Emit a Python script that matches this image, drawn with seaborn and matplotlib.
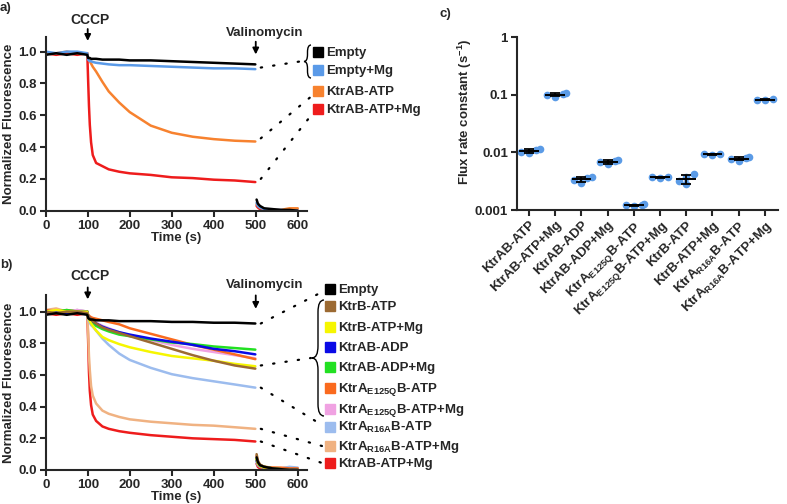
import matplotlib.pyplot as plt
import seaborn as sns
import pandas as pd
import numpy as np
from matplotlib.patches import ConnectionPatch, PathPatch
from matplotlib.path import Path
from matplotlib.lines import Line2D
from matplotlib.ticker import FormatStrFormatter, NullLocator

sns.set_style("ticks")
plt.rcParams["font.family"] = ["Liberation Sans", "DejaVu Sans"]
plt.rcParams["font.weight"] = "bold"
plt.rcParams["axes.labelweight"] = "bold"
plt.rcParams["mathtext.fontset"] = "custom"
plt.rcParams["mathtext.rm"] = "Liberation Sans:bold"
plt.rcParams["mathtext.bf"] = "Liberation Sans:bold"
plt.rcParams["mathtext.it"] = "Liberation Sans:bold"
plt.rcParams["mathtext.default"] = "bf"

W, H = 787, 504
FS = 9.5

# -------------------------------
# DATA
# -------------------------------
time_s = [0, 25, 50, 75, 99, 101, 103, 105, 108, 112, 120, 135, 150, 175, 200,
          250, 300, 350, 400, 450, 499, 502, 505, 510, 520, 540, 560, 580, 600]

# panel a
a_empty = [0.98, 0.99, 0.98, 0.99, 0.98, 0.96, 0.96, 0.96, 0.955, 0.955, 0.955, 0.95, 0.95, 0.95, 0.945,
           0.945, 0.94, 0.935, 0.93, 0.925, 0.92, 0.07, 0.045, 0.03, 0.015, 0.01, 0.005, 0.005, 0.0]
a_empty_mg = [1.0, 0.99, 1.0, 1.0, 0.99, 0.95, 0.945, 0.94, 0.94, 0.935, 0.93, 0.925, 0.92, 0.915, 0.915,
              0.91, 0.905, 0.9, 0.895, 0.895, 0.89, 0.05, 0.03, 0.02, 0.01, 0.005, 0.005, 0.0, 0.0]
a_atp = [0.99, 0.99, 1.0, 0.99, 0.99, 0.96, 0.95, 0.94, 0.925, 0.905, 0.875, 0.81, 0.75, 0.68, 0.62,
         0.535, 0.49, 0.465, 0.45, 0.44, 0.435, 0.04, 0.03, 0.02, 0.01, 0.005, 0.005, 0.015, 0.015]
a_atp_mg = [0.99, 0.98, 0.99, 0.98, 0.99, 0.82, 0.66, 0.54, 0.43, 0.35, 0.3, 0.28, 0.26, 0.245, 0.235,
            0.225, 0.21, 0.205, 0.195, 0.19, 0.18, 0.03, 0.02, 0.01, 0.005, 0.0, 0.0, 0.0, 0.0]

a_names = ["Empty", "Empty+Mg", "KtrAB-ATP", "KtrAB-ATP+Mg"]
a_colors = ["#000000", "#5a9ae8", "#f7822f", "#ee1c1c"]
a_values = [a_empty, a_empty_mg, a_atp, a_atp_mg]

# panel b
b_empty = [0.98, 0.99, 0.98, 0.99, 0.98, 0.96, 0.955, 0.95, 0.95, 0.95, 0.945, 0.945, 0.945, 0.94, 0.94,
           0.94, 0.935, 0.935, 0.93, 0.93, 0.925, 0.08, 0.05, 0.03, 0.02, 0.01, 0.005, 0.0, 0.0]
b_ktrb = [1.0, 0.99, 1.0, 1.0, 0.99, 0.97, 0.965, 0.96, 0.95, 0.94, 0.925, 0.9, 0.885, 0.865, 0.845,
          0.805, 0.765, 0.725, 0.69, 0.66, 0.64, 0.1, 0.06, 0.035, 0.02, 0.01, 0.005, 0.005, 0.0]
b_ktrb_mg = [1.0, 1.01, 1.0, 1.0, 1.0, 0.96, 0.95, 0.94, 0.925, 0.91, 0.88, 0.84, 0.82, 0.795, 0.775,
             0.745, 0.72, 0.705, 0.69, 0.67, 0.655, 0.07, 0.04, 0.025, 0.015, 0.01, 0.005, 0.0, 0.0]
b_adp = [1.0, 1.0, 0.99, 1.0, 1.0, 0.97, 0.965, 0.96, 0.95, 0.94, 0.925, 0.905, 0.89, 0.87, 0.855,
         0.83, 0.81, 0.79, 0.765, 0.75, 0.73, 0.06, 0.04, 0.025, 0.015, 0.01, 0.005, 0.005, 0.0]
b_adp_mg = [1.0, 1.0, 1.01, 1.0, 1.0, 0.97, 0.96, 0.95, 0.94, 0.93, 0.91, 0.89, 0.875, 0.855, 0.845,
            0.825, 0.805, 0.795, 0.78, 0.77, 0.76, 0.07, 0.045, 0.03, 0.02, 0.01, 0.005, 0.0, 0.0]
b_e125q = [1.01, 1.0, 1.01, 1.0, 1.0, 0.98, 0.975, 0.97, 0.965, 0.96, 0.955, 0.945, 0.935, 0.92, 0.895,
           0.86, 0.825, 0.79, 0.76, 0.73, 0.7, 0.09, 0.05, 0.03, 0.02, 0.015, 0.015, 0.01, 0.01]
b_e125q_mg = [1.0, 1.01, 1.0, 1.01, 1.0, 0.97, 0.965, 0.96, 0.955, 0.945, 0.93, 0.91, 0.895, 0.87, 0.85,
              0.82, 0.79, 0.765, 0.745, 0.725, 0.705, 0.07, 0.04, 0.03, 0.02, 0.01, 0.01, 0.005, 0.005]
b_r16a = [1.01, 1.0, 1.0, 1.01, 1.0, 0.95, 0.94, 0.93, 0.915, 0.905, 0.88, 0.83, 0.79, 0.735, 0.695,
          0.645, 0.605, 0.58, 0.56, 0.54, 0.52, 0.05, 0.03, 0.02, 0.015, 0.01, 0.01, 0.02, 0.015]
b_r16a_mg = [1.01, 1.02, 1.0, 1.01, 1.0, 0.86, 0.72, 0.63, 0.53, 0.47, 0.42, 0.375, 0.355, 0.335, 0.32,
             0.305, 0.295, 0.285, 0.28, 0.27, 0.26, 0.06, 0.04, 0.03, 0.02, 0.015, 0.01, 0.015, 0.01]
b_atp_mg = [0.99, 0.98, 0.99, 0.98, 0.99, 0.82, 0.62, 0.5, 0.41, 0.35, 0.31, 0.275, 0.26, 0.245, 0.235,
            0.22, 0.21, 0.2, 0.195, 0.19, 0.18, 0.04, 0.02, 0.01, 0.005, 0.0, 0.0, 0.0, 0.0]

b_names = ["Empty", "KtrB-ATP", "KtrB-ATP+Mg", "KtrAB-ADP", "KtrAB-ADP+Mg",
           "KtrA$_{E125Q}$B-ATP", "KtrA$_{E125Q}$B-ATP+Mg", "KtrA$_{R16A}$B-ATP",
           "KtrA$_{R16A}$B-ATP+Mg", "KtrAB-ATP+Mg"]
b_colors = ["#000000", "#9c6a32", "#f6f600", "#0a0ae6", "#22e022", "#fa6a1e",
            "#f0a2e2", "#9cbcee", "#f0b282", "#ee1c1c"]
b_values = [b_empty, b_ktrb, b_ktrb_mg, b_adp, b_adp_mg, b_e125q, b_e125q_mg,
            b_r16a, b_r16a_mg, b_atp_mg]

# panel c
flux_labels = ["KtrAB-ATP", "KtrAB-ATP+Mg", "KtrAB-ADP", "KtrAB-ADP+Mg",
               "KtrA$_{E125Q}$B-ATP", "KtrA$_{E125Q}$B-ATP+Mg", "KtrB-ATP", "KtrB-ATP+Mg",
               "KtrA$_{R16A}$B-ATP", "KtrA$_{R16A}$B-ATP+Mg"]
flux_reps = [
    [0.0096, 0.0102, 0.0108, 0.0114],
    [0.092, 0.097, 0.101, 0.106],
    [0.0029, 0.0033, 0.0036, 0.0038],
    [0.0063, 0.0067, 0.0070, 0.0074],
    [0.00117, 0.00120, 0.00122, 0.00125],
    [0.0036, 0.0037, 0.0038],
    [0.0028, 0.0032, 0.0038, 0.0042],
    [0.0091, 0.0093, 0.0095],
    [0.0071, 0.0076, 0.0080, 0.0083],
    [0.080, 0.082, 0.084],
]


# -------------------------------
# HELPERS
# -------------------------------
def fx(x):
    return x / W


def fy(y):
    return 1 - y / H


def trace_frame(names, values):
    rows = []
    for name, vals in zip(names, values):
        for t, v in zip(time_s, vals):
            rows.append((name, t, v, int(t > 500)))
    return pd.DataFrame(rows, columns=["series", "time", "value", "segment"])


def style_axes(ax):
    sns.despine(ax=ax)
    for s in ["left", "bottom"]:
        ax.spines[s].set_linewidth(1.5)
    ax.tick_params(width=1.5, length=4.5, pad=2, labelsize=FS)


def style_trace_axes(ax, ytop):
    ax.set_xlim(0, 622)
    ax.set_ylim(0, ytop)
    ax.set_xticks([0, 100, 200, 300, 400, 500, 600])
    ax.set_yticks([0, 0.2, 0.4, 0.6, 0.8, 1.0])
    ax.yaxis.set_major_formatter(FormatStrFormatter("%.1f"))
    ax.set_xlabel("Time (s)", fontsize=FS, labelpad=0)
    ax.set_ylabel("Normalized Fluorescence", fontsize=FS, labelpad=2)
    style_axes(ax)


def arrow(ax, x, y_tip, y_tail):
    ax.annotate("", xy=(x, y_tip), xytext=(x, y_tail), annotation_clip=False,
                arrowprops=dict(arrowstyle="-|>", color="k", lw=1.3, mutation_scale=9))


def key(fig, x, y, color, label):
    fig.add_artist(Line2D([fx(x)], [fy(y)], marker="s", ms=6.5, color=color,
                          linestyle="none", transform=fig.transFigure))
    fig.text(fx(x + 8), fy(y + 4), label, va="baseline", ha="left", fontsize=FS)


def connector(fig, ax, xy_data, xy_px):
    con = ConnectionPatch(xyA=xy_data, coordsA=ax.transData,
                          xyB=(fx(xy_px[0]), fy(xy_px[1])), coordsB=fig.transFigure,
                          color="k", lw=1.6, linestyle=(0, (0.6, 5)), capstyle="round")
    fig.add_artist(con)


def brace(fig, x_tip, x_end, y0, y1):
    ym = (y0 + y1) / 2
    xb = (x_tip + x_end) / 2
    r = min(abs(x_end - x_tip), (y1 - y0) / 4)
    pts = [(x_end, y0), (xb, y0), (xb, y0 + r), (xb, ym - r), (xb, ym), (x_tip, ym),
           (xb, ym), (xb, ym + r), (xb, y1 - r), (xb, y1), (x_end, y1)]
    codes = [Path.MOVETO, Path.CURVE3, Path.CURVE3, Path.LINETO, Path.CURVE3, Path.CURVE3,
             Path.CURVE3, Path.CURVE3, Path.LINETO, Path.CURVE3, Path.CURVE3]
    verts = [(fx(px), fy(py)) for px, py in pts]
    fig.add_artist(PathPatch(Path(verts, codes), fill=False, lw=1.0, color="k",
                             transform=fig.transFigure))


# -------------------------------
# FIGURE
# -------------------------------
fig = plt.figure(figsize=(W / 100, H / 100), dpi=100)
ax_a = fig.add_axes([fx(45.7), fy(210.7), (307 - 45.7) / W, (210.7 - 36.7) / H])
ax_b = fig.add_axes([fx(45.7), fy(470), (307 - 45.7) / W, (470 - 295) / H])
ax_c = fig.add_axes([fx(517), fy(210), (778 - 517) / W, (210 - 37) / H])

# panel a
df_a = trace_frame(a_names, a_values)
sns.lineplot(data=df_a, x="time", y="value", hue="series", units="segment", estimator=None,
             palette=dict(zip(a_names, a_colors)), hue_order=a_names[::-1], legend=False,
             lw=1.8, ax=ax_a)
style_trace_axes(ax_a, 1.094)
ax_a.text(105, 1.2, "CCCP", ha="center", va="center", fontsize=10)
arrow(ax_a, 100, 1.05, 1.16)
ax_a.text(522, 1.117, "Valinomycin", ha="center", va="center", fontsize=FS)
arrow(ax_a, 500, 0.965, 1.08)

for name, color, y in zip(a_names, a_colors, [52, 70, 91, 109]):
    key(fig, 318, y, color, name)
brace(fig, 304, 311, 45, 78)
connector(fig, ax_a, (512, a_empty[20] - 0.02), (303, 61))
connector(fig, ax_a, (512, a_atp[20] + 0.02), (313, 95))
connector(fig, ax_a, (512, a_atp_mg[20] + 0.02), (313, 113))

# panel b
df_b = trace_frame(b_names, b_values)
sns.lineplot(data=df_b, x="time", y="value", hue="series", units="segment", estimator=None,
             palette=dict(zip(b_names, b_colors)), hue_order=b_names[::-1], legend=False,
             lw=1.8, ax=ax_b)
style_trace_axes(ax_b, 1.105)
ax_b.text(105, 1.225, "CCCP", ha="center", va="center", fontsize=10)
arrow(ax_b, 100, 1.06, 1.17)
ax_b.text(522, 1.17, "Valinomycin", ha="center", va="center", fontsize=FS)
arrow(ax_b, 500, 1.0, 1.12)

for name, color, y in zip(b_names, b_colors, [289, 306, 327, 347, 367, 388, 409, 427, 446, 463]):
    key(fig, 330, y, color, name)
brace(fig, 312, 324, 300, 416)
connector(fig, ax_b, (512, b_empty[20]), (322, 292))
connector(fig, ax_b, (512, 0.66), (311, 358))
connector(fig, ax_b, (512, b_r16a[20]), (322, 425))
connector(fig, ax_b, (512, b_r16a_mg[20]), (322, 446))
connector(fig, ax_b, (512, b_atp_mg[20]), (322, 463))

# panel c
df_c = pd.DataFrame([(lab, v) for lab, reps in zip(flux_labels, flux_reps) for v in reps],
                    columns=["sample", "rate"])
ax_c.set_yscale("log")
sns.swarmplot(data=df_c, x="sample", y="rate", order=flux_labels, color="#5b9be6",
              size=5.5, ax=ax_c, zorder=2)
stats = df_c.groupby("sample", sort=False)["rate"].agg(["mean", "std"]).reindex(flux_labels)
pos = np.arange(len(flux_labels))
ax_c.errorbar(pos, stats["mean"], yerr=stats["std"], fmt="none", ecolor="black",
              elinewidth=1.3, capsize=3.5, capthick=1.3, zorder=4)
ax_c.hlines(stats["mean"], pos - 0.38, pos + 0.38, color="black", lw=1.4, zorder=4)
ax_c.set_ylim(0.001, 1)
ax_c.set_xlim(-0.46, 9.5)
ax_c.set_yticks([0.001, 0.01, 0.1, 1])
ax_c.set_yticklabels(["0.001", "0.01", "0.1", "1"])
ax_c.yaxis.set_minor_locator(NullLocator())
ax_c.set_xticks(pos)
ax_c.set_xticklabels(flux_labels, rotation=45, ha="right", rotation_mode="anchor")
ax_c.set_xlabel("")
ax_c.set_ylabel("Flux rate constant (s$^{-1}$)", fontsize=FS)
ax_c.yaxis.set_label_coords(-0.165, 0.57)
style_axes(ax_c)

# panel letters
fig.text(fx(0), fy(8), "a)", fontsize=FS, va="center", ha="left")
fig.text(fx(0), fy(265), "b)", fontsize=FS, va="center", ha="left")
fig.text(fx(440), fy(14), "c)", fontsize=FS, va="center", ha="left")

fig.savefig("out.png", dpi=100)
